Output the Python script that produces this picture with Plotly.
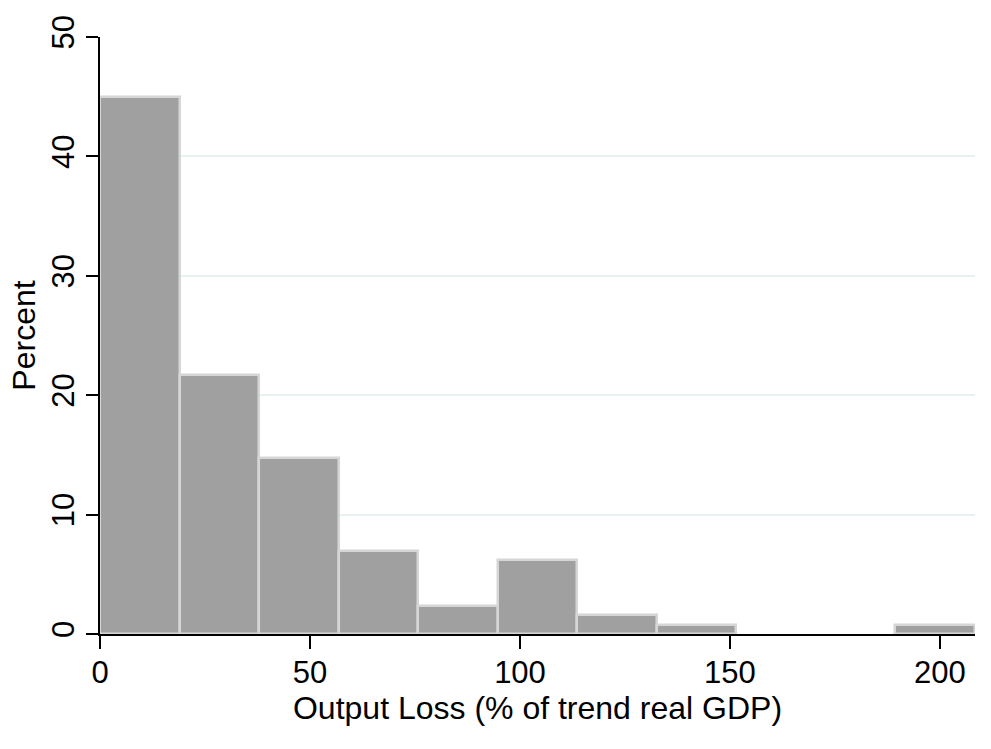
import plotly.graph_objects as go

# Histogram of output loss (% of trend real GDP); 11 bins starting at 0
bin_start = 0.0
bin_width = 18.94
percent = [44.96, 21.71, 14.73, 6.98, 2.33, 6.20, 1.55, 0.78, 0.0, 0.0, 0.78]
x_ticks = [0, 50, 100, 150, 200]
y_ticks = [0, 10, 20, 30, 40, 50]

centers = [bin_start + bin_width * (i + 0.5) for i in range(len(percent))]
x_max = bin_start + bin_width * len(percent)
# empty bins are not drawn
bx = [c for c, p in zip(centers, percent) if p > 0]
by = [p for p in percent if p > 0]

fig = go.Figure()
fig.add_trace(go.Bar(
    x=bx, y=by, width=[bin_width] * len(bx),
    marker=dict(color="rgb(160,160,160)", line=dict(color="rgb(214,214,214)", width=2.5)),
    hoverinfo="x+y",
))

font_family = "Liberation Sans, Arial, sans-serif"
fig.update_layout(
    width=991, height=749,
    margin=dict(l=100, r=16, t=37, b=115),
    paper_bgcolor="white", plot_bgcolor="white",
    bargap=0, showlegend=False,
    font=dict(family=font_family, size=32, color="black"),
)
fig.update_xaxes(
    range=[bin_start, x_max], tickvals=x_ticks, ticktext=[str(v) for v in x_ticks],
    showgrid=False, zeroline=False, automargin=False,
    showline=True, linecolor="black", linewidth=2,
    ticks="outside", ticklen=13, tickwidth=2, tickcolor="black",
    ticklabelstandoff=-3,
    tickfont=dict(size=31),
    title=dict(text="Output Loss (% of trend real GDP)", font=dict(size=32), standoff=0),
)
fig.update_yaxes(
    range=[0, 50], tickvals=y_ticks, ticktext=[str(v) for v in y_ticks],
    showgrid=True, gridcolor="rgb(232,240,242)", gridwidth=2,
    zeroline=False, automargin=False,
    showline=True, linecolor="black", linewidth=2,
    ticks="outside", ticklen=12, tickwidth=2, tickcolor="black",
    tickangle=-90, ticklabelstandoff=0,
    tickfont=dict(size=31),
    title=dict(text="Percent", font=dict(size=32), standoff=0),
)

fig.write_html("out.html", config={"displayModeBar": False},
               post_script="document.body.style.margin='0';")
